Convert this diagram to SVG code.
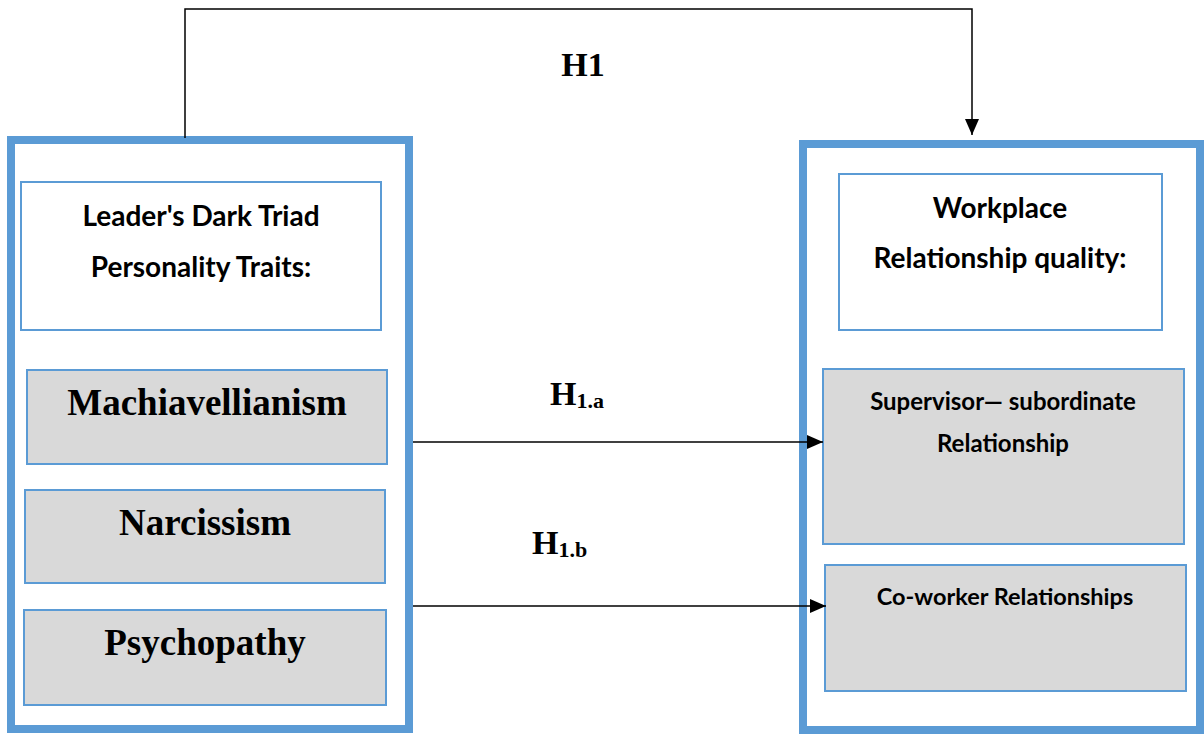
<svg xmlns="http://www.w3.org/2000/svg" width="1204" height="734" viewBox="0 0 1204 734">
<defs>
<style>
.outer{fill:#fff;stroke:#5b9bd5;stroke-width:8}
.title{fill:#fff;stroke:#5b9bd5;stroke-width:2}
.trait{fill:#d9d9d9;stroke:#5b9bd5;stroke-width:2}
.sans{font-family:Lato,"Open Sans","Liberation Sans",sans-serif;font-weight:bold;fill:#000;text-anchor:middle}
.serif{font-family:"Liberation Serif","Times New Roman",serif;font-weight:bold;fill:#000}
.conn{fill:none;stroke:#000;stroke-width:1.5}
</style>
<marker id="arr" markerWidth="16" markerHeight="14" refX="16" refY="7" orient="auto" markerUnits="userSpaceOnUse">
<path d="M0,0 L16,7 L0,14 Z" fill="#000"/>
</marker>
</defs>
<rect width="1204" height="734" fill="#fff"/>
<g id="left-group">
<rect class="outer" x="11" y="140" width="398" height="589"/>
</g>
<g id="leader-title">
<rect class="title" x="21" y="182" width="360" height="148"/>
<text class="sans" x="201" y="226" font-size="28">Leader's Dark Triad</text>
<text class="sans" x="201" y="277" font-size="28">Personality Traits:</text>
</g>
<g id="machiavellianism">
<rect class="trait" x="27" y="370" width="360" height="94"/>
<text class="serif" x="207" y="415" font-size="37" text-anchor="middle">Machiavellianism</text>
</g>
<g id="narcissism">
<rect class="trait" x="25" y="490" width="360" height="93"/>
<text class="serif" x="205" y="535" font-size="37" text-anchor="middle">Narcissism</text>
</g>
<g id="psychopathy">
<rect class="trait" x="24" y="610" width="362" height="95"/>
<text class="serif" x="205" y="655" font-size="37" text-anchor="middle">Psychopathy</text>
</g>
<g id="right-group">
<rect class="outer" x="803" y="144" width="397" height="586"/>
</g>
<g id="workplace-title">
<rect class="title" x="839" y="174" width="323" height="156"/>
<text class="sans" x="1000" y="218" font-size="28">Workplace</text>
<text class="sans" x="1000" y="268" font-size="28">Relationship quality:</text>
</g>
<g id="supervisor">
<rect class="trait" x="823" y="369" width="361" height="175"/>
<text class="sans" x="1003" y="410" font-size="24">Supervisor— subordinate</text>
<text class="sans" x="1003" y="452" font-size="24">Relationship</text>
</g>
<g id="coworker">
<rect class="trait" x="825" y="565" width="361" height="126"/>
<text class="sans" x="1005" y="605" font-size="23.5">Co-worker Relationships</text>
</g>
<g id="connectors">
<path class="conn" d="M185,138 V9 H972 V135" stroke-width="2" marker-end="url(#arr)"/>
<line class="conn" x1="413" y1="442" x2="823" y2="442" marker-end="url(#arr)"/>
<line class="conn" x1="413" y1="606" x2="826" y2="606" marker-end="url(#arr)"/>
<text class="serif" x="583" y="76" font-size="34" text-anchor="middle">H1</text>
<text class="serif" x="550" y="405" font-size="34">H<tspan font-size="22" dy="3">1.a</tspan></text>
<text class="serif" x="532" y="554" font-size="34">H<tspan font-size="22" dy="3">1.b</tspan></text>
</g>
</svg>
